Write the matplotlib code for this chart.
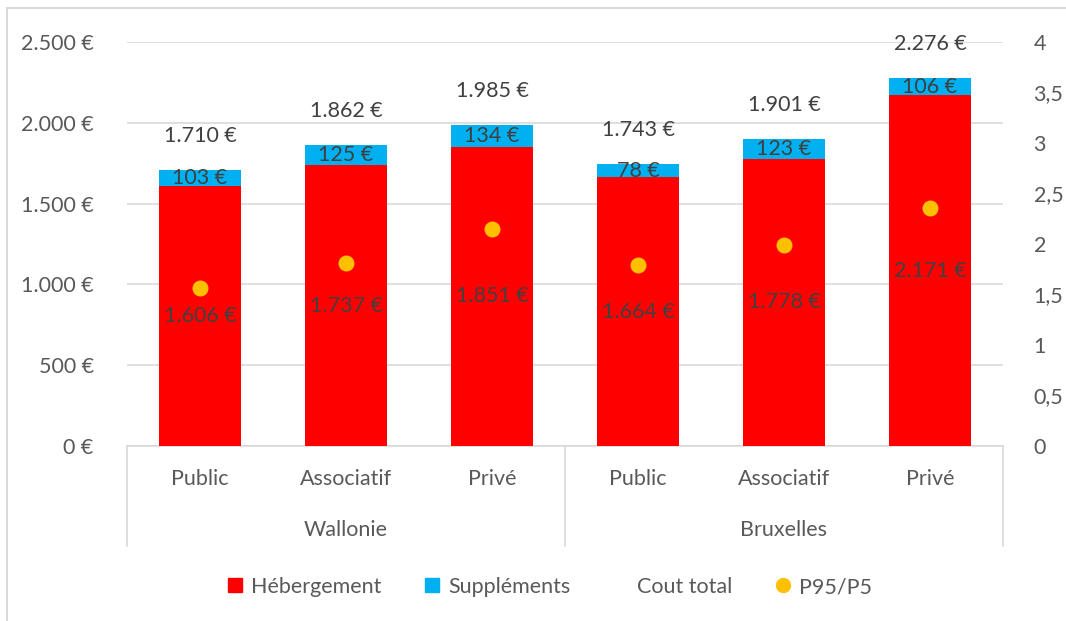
import matplotlib
matplotlib.use("Agg")
import matplotlib.pyplot as plt
from matplotlib.lines import Line2D
from matplotlib.patches import Rectangle
from matplotlib.ticker import FuncFormatter, MultipleLocator

plt.rcParams['font.family'] = ['Lato', 'DejaVu Sans']

# ---- data ----
categories = ["Public", "Associatif", "Privé", "Public", "Associatif", "Privé"]
groups = ["Wallonie", "Bruxelles"]
hebergement = [1606, 1737, 1851, 1664, 1778, 2171]
supplements = [103, 125, 134, 78, 123, 106]
cout_total = [1710, 1862, 1985, 1743, 1901, 2276]
p95_p5 = [1.56, 1.81, 2.15, 1.79, 1.99, 2.36]

RED = "#FF0000"
BLUE = "#00B0F0"
YELLOW = "#FFC000"
GRID = "#D9D9D9"
TXT = "#595959"
DARK = "#404040"
FS = 15.5

W, H = 1066, 621
fig = plt.figure(figsize=(W / 100, H / 100), dpi=100)
# chart frame (cropped on the right and bottom in the reference)
fig.patches.append(Rectangle((7 / W, -0.05), 1.2, 1 - 8 / H + 0.05,
                             transform=fig.transFigure, fill=False,
                             edgecolor=GRID, linewidth=1.4))

left, right, top, bottom = 127, 1003, 42, 446
ax = fig.add_axes([left / W, 1 - bottom / H, (right - left) / W, (bottom - top) / H])
ax2 = ax.twinx()

def euro(v, pos=None):
    s = f"{int(round(v)):,}".replace(",", ".")
    return f"{s} €"

def comma(v, pos=None):
    s = f"{v:g}".replace(".", ",")
    return s

x = list(range(len(categories)))
bw = 0.56
ax.bar(x, hebergement, width=bw, color=RED, zorder=2)
ax.bar(x, supplements, width=bw, bottom=hebergement, color=BLUE, zorder=2)
ax.plot(x, cout_total, linestyle="none", marker=None)

for i in x:
    h = hebergement[i]
    s = supplements[i]
    ax.text(i, h / 2, euro(h), ha="center", va="center", color=DARK, fontsize=FS, zorder=3)
    ax.text(i, h + s / 2, euro(s), ha="center", va="center", color=DARK, fontsize=FS, zorder=3)
    ax.annotate(euro(cout_total[i]), (i, cout_total[i]), xytext=(0, 34),
                textcoords="offset pixels", ha="center", va="center",
                color=DARK, fontsize=FS, zorder=3)

ax2.plot(x, p95_p5, linestyle="none", marker="o", markersize=10.5,
         color=YELLOW, zorder=4)

ax.set_xlim(-0.5, len(categories) - 0.5)
ax.set_ylim(0, 2500)
ax2.set_ylim(0, 4)
ax.yaxis.set_major_locator(MultipleLocator(500))
ax.yaxis.set_major_formatter(FuncFormatter(euro))
ax2.yaxis.set_major_locator(MultipleLocator(0.5))
ax2.yaxis.set_major_formatter(FuncFormatter(comma))

ax.grid(axis="y", color=GRID, linewidth=1.2, zorder=0)
ax.set_axisbelow(True)
for a in (ax, ax2):
    for sp in a.spines.values():
        sp.set_visible(False)
ax.tick_params(axis="y", length=0, pad=24, labelcolor=TXT, labelsize=FS)
ax2.tick_params(axis="y", length=0, pad=22, labelcolor=TXT, labelsize=FS)
ax.set_xticks([])

# category axis lines
trans = ax.get_xaxis_transform()
depth = (546 - bottom) / (bottom - top)
ax.plot([-0.5, len(categories) - 0.5], [0, 0], color=GRID, lw=1.2,
        transform=trans, clip_on=False, zorder=1)
for xs in (-0.5, 2.5, 5.5):
    ax.plot([xs, xs], [0, -depth], color=GRID, lw=1.2, transform=trans, clip_on=False)

yc = -(479 - bottom) / (bottom - top)
yg = -(530 - bottom) / (bottom - top)
for i, c in enumerate(categories):
    ax.text(i, yc, c, ha="center", va="center", color=TXT, fontsize=FS, transform=trans)
for gi, g in enumerate(groups):
    ax.text(gi * 3 + 1, yg, g, ha="center", va="center", color=TXT, fontsize=FS, transform=trans)

handles = [
    Line2D([], [], linestyle="none", marker="s", markersize=10, color=RED),
    Line2D([], [], linestyle="none", marker="s", markersize=10, color=BLUE),
    Line2D([], [], linestyle="none", marker=None),
    Line2D([], [], linestyle="none", marker="o", markersize=10, color=YELLOW),
]
labels = ["Hébergement", "Suppléments", "Cout total", "P95/P5"]
leg = fig.legend(handles, labels, loc="center", bbox_to_anchor=(550 / W, 1 - 587 / H),
                 ncol=4, frameon=False, fontsize=FS, handlelength=0.7,
                 handletextpad=0.4, columnspacing=2.0, labelcolor=TXT)

fig.savefig("out.png", dpi=100)
